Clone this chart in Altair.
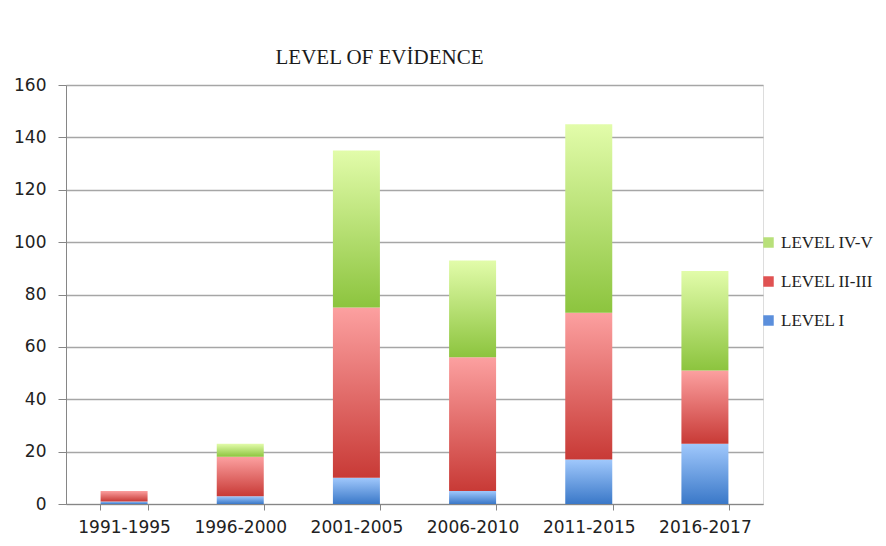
import altair as alt
import pandas as pd

periods = ["1991-1995", "1996-2000", "2001-2005", "2006-2010", "2011-2015", "2016-2017"]
level_i = [1, 3, 10, 5, 17, 23]
level_ii_iii = [4, 15, 65, 51, 56, 28]
level_iv_v = [0, 5, 60, 37, 72, 38]

series_names = ["LEVEL I", "LEVEL II-III", "LEVEL IV-V"]
series_values = [level_i, level_ii_iii, level_iv_v]
# (top colour, bottom colour, legend colour)
series_colors = {
    "LEVEL I": ("#a0c8fc", "#3a78c8", "#5b8fdc"),
    "LEVEL II-III": ("#fca0a0", "#c83a36", "#e05252"),
    "LEVEL IV-V": ("#e2fcaa", "#8cc43e", "#b8e07a"),
}

rows = []
for i, p in enumerate(periods):
    base = 0
    for name, vals in zip(series_names, series_values):
        v = vals[i]
        rows.append({"period": p, "level": name, "value": v, "y0": base, "y1": base + v})
        base += v
df = pd.DataFrame(rows)

SERIF = "Liberation Serif"
SANS = "DejaVu Sans"

x_enc = alt.X("period:N", sort=periods, title=None,
              scale=alt.Scale(paddingInner=0.59, paddingOuter=0.295),
              axis=alt.Axis(labelAngle=0, labelFontSize=17, labelFont=SANS, labelColor="#222",
                            tickBand="extent", tickSize=6, tickColor="#868686",
                            domainColor="#868686", labelPadding=9, grid=False))
y_scale = alt.Scale(domain=[0, 160], nice=False)
y_axis = alt.Axis(values=list(range(0, 161, 20)), labelFontSize=17, labelFont=SANS,
                  labelColor="#222", tickSize=8, tickColor="#868686", domainColor="#868686",
                  gridColor="#a6a6a6", gridWidth=1.3, labelPadding=12, title=None)

layers = []
for name in series_names:
    top, bottom, _ = series_colors[name]
    grad = alt.Gradient(gradient="linear", x1=0, x2=0, y1=0, y2=1,
                        stops=[alt.GradientStop(color=top, offset=0),
                               alt.GradientStop(color=bottom, offset=1)])
    layers.append(
        alt.Chart(df[(df["level"] == name) & (df["value"] > 0)])
        .mark_bar(color=grad, size=47)
        .encode(x=x_enc,
                y=alt.Y("y0:Q", scale=y_scale, axis=y_axis),
                y2="y1:Q")
    )

legend_order = ["LEVEL IV-V", "LEVEL II-III", "LEVEL I"]
legend_layer = (
    alt.Chart(df)
    .mark_square(opacity=0)
    .encode(x=x_enc,
            y=alt.Y("y1:Q", scale=y_scale, axis=y_axis),
            color=alt.Color("level:N",
                            scale=alt.Scale(domain=legend_order,
                                            range=[series_colors[n][2] for n in legend_order]),
                            legend=alt.Legend(title=None, orient="none", legendX=694, legendY=149,
                                              symbolType="square", symbolSize=110,
                                              symbolOpacity=1, symbolStrokeWidth=0,
                                              labelFont=SERIF, labelFontSize=17,
                                              labelColor="#222", rowPadding=21,
                                              labelOffset=4)))
)

chart = (
    alt.layer(*layers, legend_layer)
    .properties(
        width=697, height=419,
        title=alt.TitleParams("LEVEL OF EVİDENCE", font=SERIF, fontSize=21, fontWeight="normal",
                              color="#1a1a1a", offset=8, dx=-35),
        autosize=alt.AutoSizeParams(type="none"),
        padding={"left": 58, "top": 77, "right": 113, "bottom": 34},
    )
    .configure_view(stroke=None)
    .configure(background="white")
)

chart.save("out.html", embed_options={"renderer": "svg", "actions": False})
